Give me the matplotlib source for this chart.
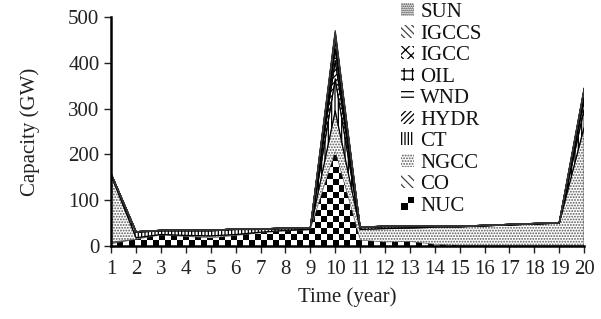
import numpy as np
import matplotlib.pyplot as plt
from matplotlib.patches import Patch, Rectangle
from matplotlib.legend_handler import HandlerPatch

plt.rcParams['font.family'] = ['Liberation Serif', 'DejaVu Serif']
plt.rcParams['hatch.linewidth'] = 0.9

years = np.arange(1, 21)
techs = ['NUC', 'CO', 'NGCC', 'CT', 'HYDR', 'WND', 'OIL', 'IGCC', 'IGCCS', 'SUN']

# capacity by technology (GW)
NUC   = [4, 14, 23, 20, 17, 22, 28, 32, 34, 205, 12, 8, 9, 3, 0, 0, 0, 0, 0, 0]
CO    = [4, 0, 0, 0, 0, 0, 0, 0, 0, 0, 0, 0, 0, 0, 0, 0, 0, 0, 0, 0]
NGCC  = [146, 4, 2, 3, 5, 3, 2, 2, 2, 90, 24, 30, 30, 38, 42, 44, 46, 48, 50, 260]
CT    = [2, 12, 8, 10, 11, 11, 6, 4, 2, 70, 4, 4, 3, 2, 0, 0, 0, 0, 0, 40]
HYDR  = [1, 1, 1, 1, 1, 1, 1, 1, 1, 40, 1, 1, 1, 1, 1, 1, 1, 1, 1, 20]
WND   = [0, 0, 0, 0, 0, 0, 0, 0, 0, 25, 0, 0, 0, 0, 0, 0, 0, 0, 0, 10]
OIL   = [0, 0, 0, 0, 0, 0, 0, 0, 0, 20, 0, 0, 0, 0, 0, 0, 0, 0, 0, 5]
IGCC  = [0, 0, 0, 0, 0, 0, 0, 0, 0, 10, 0, 0, 0, 0, 0, 0, 0, 0, 0, 5]
IGCCS = [0, 0, 0, 0, 0, 0, 0, 0, 0, 5, 0, 0, 0, 0, 0, 0, 0, 0, 0, 3]
SUN   = [0, 0, 0, 0, 0, 0, 0, 0, 0, 5, 0, 0, 0, 0, 0, 0, 0, 0, 0, 2]

series = [NUC, CO, NGCC, CT, HYDR, WND, OIL, IGCC, IGCCS, SUN]
hatches = ['', '\\\\\\\\', '......', '|||||', '//////', '---', '++', 'xxx', '\\\\\\\\\\', '........']
edgecolors = ['black', '#444444', '#555555', 'black', 'black', 'black', 'black', 'black', '#444444', '#333333']


class CheckerHandler(HandlerPatch):
    def create_artists(self, legend, orig_handle, xdescent, ydescent,
                       width, height, fontsize, trans):
        arts = []
        w, h = width / 2, height / 2
        for i in range(2):
            for j in range(2):
                fc = 'black' if (i + j) % 2 == 0 else 'white'
                r = Rectangle((-xdescent + i * w, -ydescent + j * h), w, h,
                              facecolor=fc, edgecolor='none', transform=trans)
                arts.append(r)
        return arts


fig = plt.figure(figsize=(6.01, 3.19), dpi=100)
ax = fig.add_axes([0.185, 0.229, 0.787, 0.718])

polys = ax.stackplot(years, series, colors=['white'] * len(series), linewidth=0.9)
for p, h, ec in zip(polys, hatches, edgecolors):
    p.set_hatch(h)
    p.set_edgecolor(ec)

# checkerboard for NUC, clipped to its area
nx, ny = 79, 38
checker = (np.add.outer(np.arange(ny), np.arange(nx)) % 2).astype(float)
im = ax.imshow(checker, cmap='gray', extent=[0, 1, 0, 1], transform=ax.transAxes,
               interpolation='nearest', aspect='auto', zorder=2)
im.set_clip_path(polys[0].get_paths()[0], ax.transData)

ax.set_xlim(1, 20)
ax.set_ylim(0, 500)
ax.set_xticks(years)
ax.set_yticks(range(0, 501, 100))
ax.tick_params(labelsize=15, width=1, length=5, direction='out', colors='#222222')
ax.tick_params(axis='x', pad=5)
for s in ['top', 'right']:
    ax.spines[s].set_visible(False)
for s in ['left', 'bottom']:
    ax.spines[s].set_linewidth(1.8)
ax.set_xlabel('Time (year)', fontsize=15, labelpad=6, color='#222222')
ax.set_ylabel('Capacity (GW)', fontsize=15, labelpad=20, color='#222222')

handles = []
for t, h, ec in zip(techs, hatches, edgecolors):
    handles.append(Patch(facecolor='white', edgecolor=ec, hatch=h, linewidth=0, label=t))
handles = handles[::-1]
leg = ax.legend(handles=handles, loc='upper left', bbox_to_anchor=(0.668, 0.99),
                bbox_transform=fig.transFigure, frameon=False, fontsize=15,
                handlelength=0.6, handleheight=0.6, handletextpad=0.3, labelspacing=0.12,
                borderaxespad=0, borderpad=0,
                handler_map={handles[-1]: CheckerHandler()})
for txt in leg.get_texts():
    txt.set_color('#111111')

fig.savefig('out.png', dpi=100)
